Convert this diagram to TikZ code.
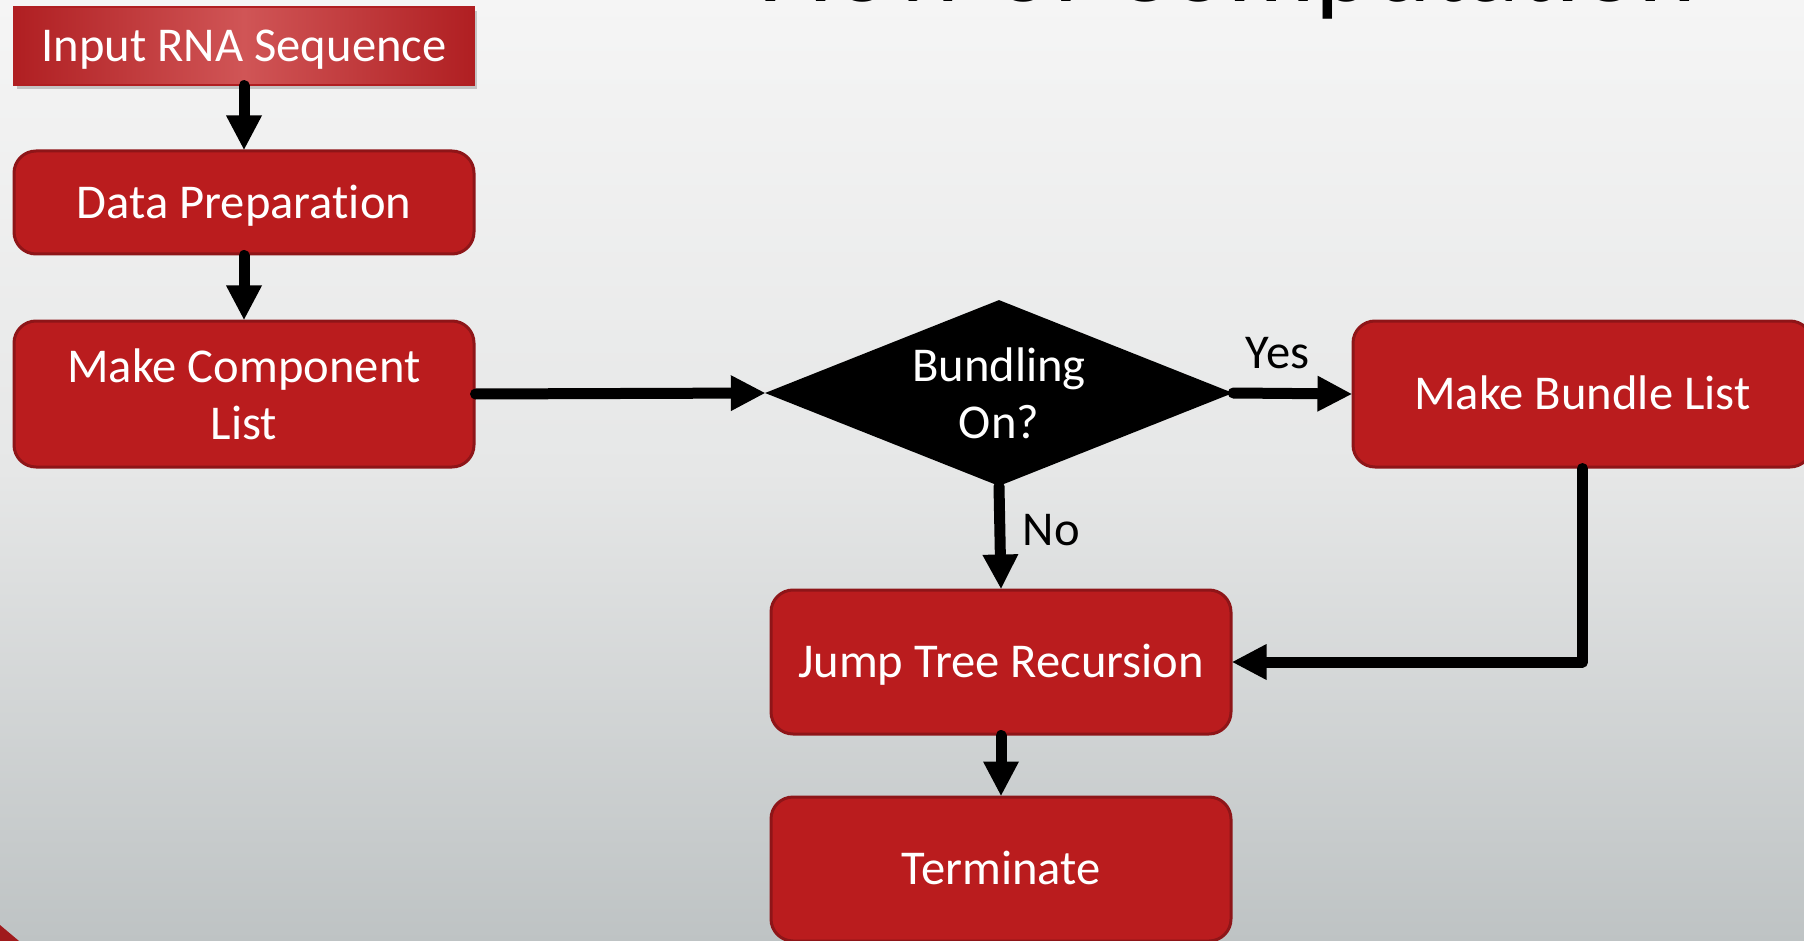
\documentclass[tikz,border=0pt]{standalone}
\usepackage{fontspec}
\setmainfont{Carlito}[Ligatures={NoCommon}]
\usetikzlibrary{arrows.meta,shapes.geometric,shadows}
\definecolor{boxred}{HTML}{BA1C1E}
\definecolor{boxedge}{HTML}{8E1518}
\definecolor{bgtop}{HTML}{F5F5F5}
\definecolor{bgmid}{HTML}{E6E7E7}
\definecolor{bgbot}{HTML}{BEC3C4}
\definecolor{inedge}{HTML}{B01F22}
\definecolor{inmid}{HTML}{D05556}
\definecolor{cornerred}{HTML}{A01A1C}
\begin{document}
\begin{tikzpicture}[x=1pt,y=-1pt,
  txt/.style={font=\fontsize{48.6}{57}\selectfont},
  flowbox/.style={txt, draw=boxedge, line width=3pt, fill=boxred, text=white,
    rounded corners=22pt, minimum width=460pt, align=center, inner sep=0pt},
  oneline/.style={text height=40pt, text depth=8.7pt},
  flow/.style={line width=11pt, line cap=round, line join=round,
    -{Triangle[width=36pt,length=34pt,line width'=0pt]}},
  lbl/.style={txt, text=black, inner sep=0pt}]
\useasboundingbox (0,0) rectangle (1804,941);
\begin{scope}
\clip (0,0) rectangle (1804,941);
\shade[top color=bgtop, bottom color=bgbot, middle color=bgmid] (0,0) rectangle (1804,941);
\node[anchor=base west, inner sep=0pt, font=\fontsize{110}{130}\selectfont, text=black] (title) at (758,1.5) {Flow of Computation};
\fill[cornerred] (0,925) -- (19,941) -- (0,941) -- cycle;

\node[txt, text=white, minimum width=460pt, minimum height=78pt, inner sep=0pt, oneline,
  draw=inedge, line width=1.2pt, left color=inedge, right color=inedge, middle color=inmid,
  drop shadow={shadow xshift=3pt, shadow yshift=-4pt, opacity=0.4}] (input) at (244,46) {Input RNA Sequence};
\node[flowbox, oneline, minimum height=103pt] (prep) at (244,202.5) {Data Preparation};
\node[flowbox, minimum height=146pt] (comp) at (244,394) {Make Component\\List};
\node[diamond, aspect=2.516, fill=black, text=white, txt, minimum width=468pt, minimum height=186pt,
  inner sep=0pt, align=center] (dec) at (999,393) {Bundling\\On?};
\node[flowbox, oneline, minimum width=459pt, minimum height=146pt] (bundle) at (1582.5,394) {Make Bundle List};
\node[flowbox, oneline, minimum height=144pt] (jump) at (1001,662) {Jump Tree Recursion};
\node[flowbox, oneline, minimum height=144pt] (term) at (1001,869) {Terminate};

\draw[flow] (input.south) -- (prep.north);
\draw[flow] (prep.south) -- (comp.north);
\draw[flow] (comp.east) -- (dec.west);
\draw[flow] (dec.east) -- node[lbl, pos=0.375, anchor=base, yshift=25pt] (yes) {Yes} (bundle.west);
\draw[flow] (dec.south) -- node[lbl, pos=0.58, anchor=base west, xshift=17pt] (no) {No} (jump.north);
\draw[flow] (bundle.south) |- (jump.east);
\draw[flow] (jump.south) -- (term.north);
\end{scope}
\end{tikzpicture}
\end{document}
